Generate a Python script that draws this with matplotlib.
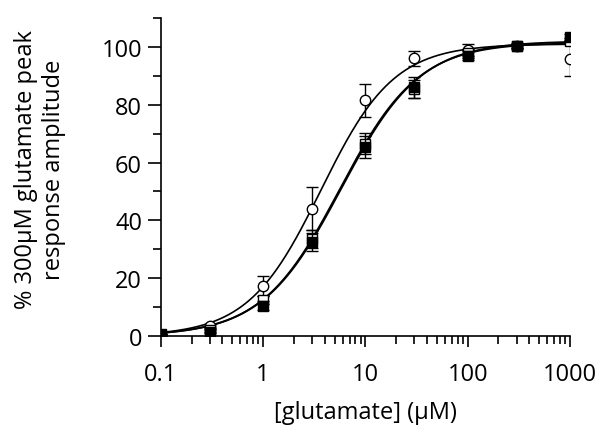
import numpy as np
import matplotlib
matplotlib.use("Agg")
import matplotlib.pyplot as plt
from matplotlib.ticker import LogLocator, NullFormatter, FixedLocator

plt.rcParams['font.family'] = ['Open Sans', 'DejaVu Sans']

conc = [0.1, 0.3, 1, 3, 10, 30, 100, 300, 1000]

circ_y = [0.5, 3.5, 17.3, 44, 81.5, 96, 99, 100.3, 95.9]
circ_e = [0, 0.8, 3.5, 7.4, 5.7, 2.6, 2.0, 0.8, 6.0]

fsq_y = [0.5, 1.5, 10.5, 32.5, 65.5, 86, 97, 100.2, 103.3]
fsq_e = [0, 0.6, 1.5, 3.2, 3.8, 3.6, 1.5, 0.8, 1.0]

osq_y = [0.6, 2.0, 12.5, 33.5, 66.5, 85.5, 97.8, 100.4, 102.0]
osq_e = [0, 0.6, 1.5, 3.0, 3.6, 3.2, 1.5, 0.8, 1.0]

# Hill fit parameters (top, EC50, n)
circ_fit = (101.0, 3.68, 1.22)
fsq_fit = (102.0, 5.8, 1.12)
osq_fit = (101.5, 5.6, 1.13)

xticks = [0.1, 1, 10, 100, 1000]
xticklabels = ["0.1", "1", "10", "100", "1000"]

fig = plt.figure(figsize=(6, 4.31), dpi=100)
ax = fig.add_axes([0.268, 0.218, 0.682, 0.738])

xx = np.logspace(-1, 3, 400)
def hill(x, p):
    top, ec, n = p
    return top / (1 + (ec / x) ** n)

ax.plot(xx, hill(xx, circ_fit), color='black', lw=1.2, zorder=2)
ax.plot(xx, hill(xx, osq_fit), color='black', lw=1.2, zorder=2)
ax.plot(xx, hill(xx, fsq_fit), color='black', lw=1.4, zorder=2)

ekw = dict(ecolor='black', elinewidth=1.0, capsize=4, capthick=1.0, ls='none')
ax.errorbar(conc, circ_y, yerr=circ_e, marker='o', ms=7.5, mfc='white', mec='black',
            mew=1.0, zorder=3, **ekw)
ax.errorbar(conc, osq_y, yerr=osq_e, marker='s', ms=7, mfc='white', mec='black',
            mew=1.0, zorder=4, **ekw)
ax.errorbar(conc, fsq_y, yerr=fsq_e, marker='s', ms=6.5, mfc='black', mec='black',
            mew=1.0, zorder=5, **ekw)

ax.set_xscale('log')
ax.set_xlim(0.1, 1000)
ax.set_ylim(0, 110)
ax.set_xticks(xticks)
ax.set_xticklabels(xticklabels)
ax.xaxis.set_minor_locator(LogLocator(base=10, subs=np.arange(2, 10)))
ax.xaxis.set_minor_formatter(NullFormatter())
ax.set_yticks([0, 20, 40, 60, 80, 100])
ax.yaxis.set_minor_locator(FixedLocator([10, 30, 50, 70, 90, 110]))

for s in ['top', 'right']:
    ax.spines[s].set_visible(False)
for s in ['left', 'bottom']:
    ax.spines[s].set_linewidth(1.2)

ax.tick_params(axis='y', which='major', direction='out', length=9.5, width=1.2,
               labelsize=17, pad=4)
ax.tick_params(axis='y', which='minor', direction='out', length=6, width=1.2)
ax.tick_params(axis='x', which='major', direction='out', length=8, width=1.2,
               labelsize=17, pad=11)
ax.tick_params(axis='x', which='minor', direction='out', length=6, width=1.2)

ax.set_xlabel("[glutamate] (μM)", fontsize=17)
ax.xaxis.set_label_coords(0.5, -0.2)
ax.set_ylabel("% 300μM glutamate peak\nresponse amplitude", fontsize=17,
              linespacing=1.2)
ax.yaxis.set_label_coords(-0.232, 0.525)

fig.savefig("out.png", dpi=100)
